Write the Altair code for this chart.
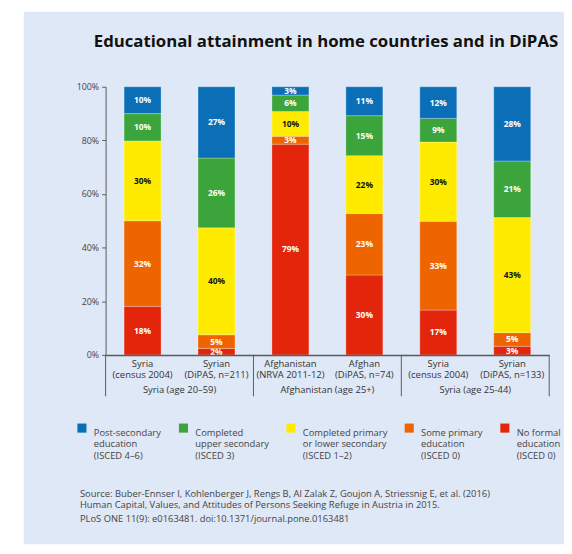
import altair as alt
import pandas as pd

# ---- data ----
bar_ids = ["b1", "b2", "b3", "b4", "b5", "b6"]
bar_labels = ["Syria\n(census 2004)", "Syrian\n(DiPAS, n=211)", "Afghanistan\n(NRVA 2011-12)",
              "Afghan\n(DiPAS, n=74)", "Syria\n(census 2004)", "Syrian\n(DiPAS, n=133)"]
groups = ["Syria (age 20–59)", "Afghanistan (age 25+)", "Syria (age 25-44)"]

# levels from bottom to top of each bar
levels = ["No formal|education|(ISCED 0)",
          "Some primary|education|(ISCED 0)",
          "Completed primary|or lower secondary|(ISCED 1–2)",
          "Completed|upper secondary|(ISCED 3)",
          "Post-secondary|education|(ISCED 4–6)"]
level_colors = ["#e3260b", "#ee6500", "#ffeb00", "#3ba53b", "#0b6fb8"]

# shares (bottom to top)
shares = [
    [18.1, 31.9, 29.8, 10.2, 10.0],
    [2.4, 5.1, 39.9, 26.0, 26.6],
    [78.6, 2.9, 9.3, 6.1, 3.1],
    [29.8, 22.9, 21.6, 14.9, 10.8],
    [16.7, 33.1, 29.6, 8.8, 11.8],
    [3.2, 5.1, 42.9, 21.1, 27.7],
]
# printed labels
printed = [
    [18, 32, 30, 10, 10],
    [2, 5, 40, 26, 27],
    [79, 3, 10, 6, 3],
    [30, 23, 22, 15, 11],
    [17, 33, 30, 9, 12],
    [3, 5, 43, 21, 28],
]

title_text = "Educational attainment in home countries and in DiPAS"
source_lines = [
    "Source: Buber-Ennser I, Kohlenberger J, Rengs B, Al Zalak Z, Goujon A, Striessnig E, et al. (2016)",
    "Human Capital, Values, and Attitudes of Persons Seeking Refuge in Austria in 2015.",
    "PLoS ONE 11(9): e0163481. doi:10.1371/journal.pone.0163481",
]

rows = []
for i, bid in enumerate(bar_ids):
    for j, lev in enumerate(levels):
        rows.append({"bar": bid, "level": lev, "order": j, "share": shares[i][j],
                     "label": f"{printed[i][j]}%", "dark": 1 if j == 2 else 0})
df = pd.DataFrame(rows)
cat_df = pd.DataFrame({"bar": bar_ids, "text": bar_labels})
grp_df = pd.DataFrame({"group": groups})

FONT = "Open Sans"
W, H = 450, 272

xscale = alt.Scale(domain=bar_ids, paddingInner=0.5, paddingOuter=0.25)
yscale = alt.Scale(domain=[0, 100], nice=False)
legend_order = list(reversed(levels))
color_scale = alt.Scale(domain=legend_order, range=list(reversed(level_colors)))

one = pd.DataFrame({"a": [0]})

bg = alt.Chart(one).mark_rect(color="#dfe8f6").encode(
    x=alt.value(-83), x2=alt.value(465), y=alt.value(-76), y2=alt.value(464))

stacked = alt.Chart(df).transform_stack(
    stack="share", as_=["y0", "y1"], groupby=["bar"], sort=[alt.SortField("order", order="ascending")]
).transform_calculate(mid="(datum.y0 + datum.y1) / 2")

bars = stacked.mark_bar(stroke="#ffffff", strokeWidth=0.6, strokeOpacity=0.45).encode(
    x=alt.X("bar:N", scale=xscale, sort=bar_ids,
            axis=alt.Axis(title=None, labels=False, ticks=False, domain=True, zindex=2,
                          domainColor="#5a5a5a", domainWidth=1.5)),
    y=alt.Y("y0:Q", scale=yscale,
            axis=alt.Axis(title=None, values=[0, 20, 40, 60, 80, 100], labelExpr="datum.value + '%'",
                          grid=False, tickSize=4, tickColor="#5a5a5a", domainColor="#5a5a5a", zindex=2,
                          labelFont=FONT, labelFontSize=9, labelColor="#444444", labelPadding=3)),
    y2="y1:Q",
    color=alt.Color("level:N", scale=color_scale, sort=legend_order,
                    legend=alt.Legend(orient="none", legendX=-29, legendY=341, direction="horizontal",
                                      columns=5, title=None, symbolType="square", symbolSize=85,
                                      symbolStrokeWidth=0, symbolOpacity=1, zindex=2,
                                      labelExpr="split(datum.label, '|')", labelFont=FONT,
                                      labelFontSize=9.5, labelColor="#444444", labelBaseline="top",
                                      labelOffset=7, columnPadding=17, padding=0, labelLimit=200)),
)

vals = stacked.mark_text(font=FONT, fontSize=8.5, fontWeight="bold", baseline="middle").encode(
    x=alt.X("bar:N", scale=xscale, sort=bar_ids),
    y=alt.Y("mid:Q", scale=yscale),
    text="label:N",
    color=alt.condition("datum.dark == 1", alt.value("#111111"), alt.value("#ffffff")),
)

cats = alt.Chart(cat_df).mark_text(font=FONT, fontSize=9.6, baseline="top", lineBreak="\n",
                                   lineHeight=11, color="#333333").encode(
    x=alt.X("bar:N", scale=xscale, sort=bar_ids),
    y=alt.value(276),
    text="text:N",
)

grps = alt.Chart(grp_df).mark_text(font=FONT, fontSize=9.5, baseline="middle", color="#333333").encode(
    x=alt.X("group:N", sort=groups, scale=alt.Scale(domain=groups, paddingInner=0, paddingOuter=0),
            axis=None),
    y=alt.value(308),
    text="group:N",
)

seps = [alt.Chart(one).mark_rule(color="#5a5a5a", strokeWidth=1).encode(
    x=alt.value(px), y=alt.value(272), y2=alt.value(314)) for px in [0, 150, 300, 450]]

title = alt.Chart(one).mark_text(font=FONT, fontSize=17, fontWeight="bold", align="left",
                                 baseline="middle", color="#111111").encode(
    x=alt.value(-12), y=alt.value(-45), text=alt.value(title_text))

src = [alt.Chart(one).mark_text(font=FONT, fontSize=9.5, align="left", baseline="middle",
                                color="#444444").encode(
    x=alt.value(-26), y=alt.value(yy), text=alt.value(t))
    for t, yy in zip(source_lines, [413.3, 424.7, 438.7])]

chart = alt.layer(bg, bars, vals, cats, grps, *seps, title, *src).resolve_scale(
    x="independent"
).properties(
    width=W, height=H,
    autosize=alt.AutoSizeParams(type="none"),
    padding={"left": 99, "top": 76, "right": 15, "bottom": 192},
    background="#ffffff",
).configure_view(stroke=None)

chart.save("out.html", embed_options={"renderer": "svg", "actions": False})
